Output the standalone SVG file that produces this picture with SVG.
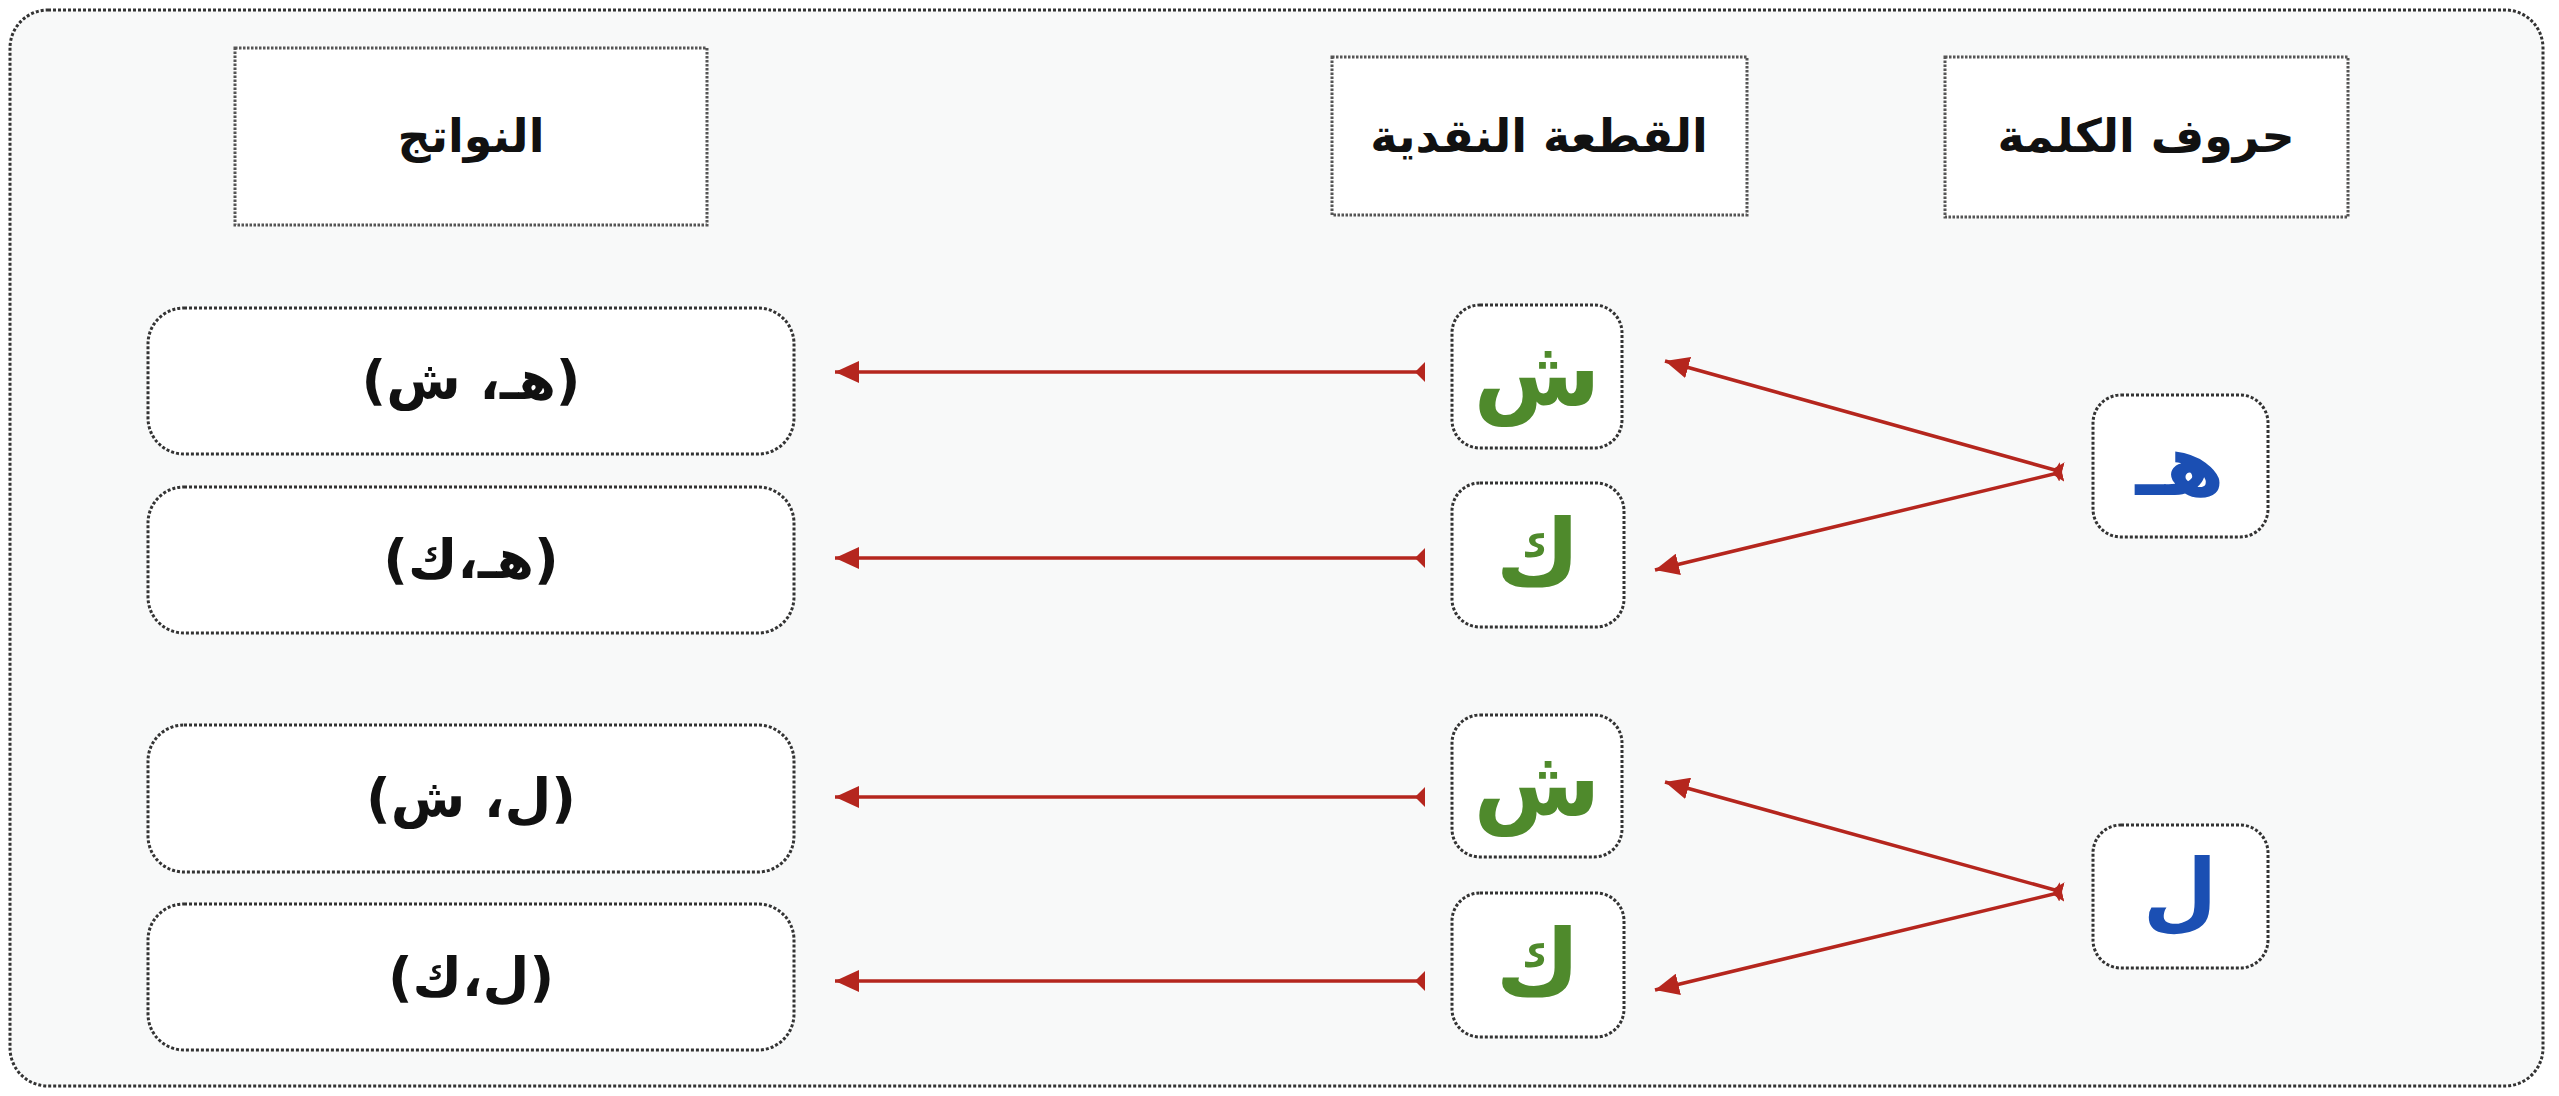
<svg xmlns="http://www.w3.org/2000/svg" width="2559" height="1096" viewBox="0 0 2559 1096">
<style>
.frame{fill:#f8f9f9;stroke:#333;stroke-width:3;stroke-dasharray:3 2}
.hdr{fill:#fff;stroke:#555;stroke-width:3;stroke-dasharray:2.5 1.5}
.box{fill:#fff;stroke:#333;stroke-width:3;stroke-dasharray:3 2}
.ar{font-family:"DejaVu Sans",sans-serif;font-weight:bold;text-anchor:middle;direction:rtl}
.h{font-size:46px;fill:#111}
.r{font-size:54px;fill:#111}
.g{font-size:92px;fill:#4f8a2c}
.b{font-size:86px;fill:#1b4fb3}
.con{stroke:#b5261e;stroke-width:3.5;fill:none;marker-end:url(#head);marker-start:url(#tail)}
</style>
<defs>
<marker id="head" viewBox="0 0 24 22" refX="24" refY="11" markerWidth="24" markerHeight="22" markerUnits="userSpaceOnUse" orient="auto">
<path d="M0,0 L24,11 L0,22 z" fill="#b5261e"/>
</marker>
<marker id="tail" viewBox="0 0 10 20" refX="0" refY="10" markerWidth="10" markerHeight="20" markerUnits="userSpaceOnUse" orient="auto">
<path d="M0,0 L10,10 L0,20 z" fill="#b5261e"/>
</marker>
</defs>
<rect class="frame" x="10" y="10" width="2533" height="1076" rx="38"/>
<g id="hdr-results"><rect class="hdr" x="235" y="48" width="472" height="177"/><text class="ar h" x="471" y="152">النواتج</text></g>
<g id="hdr-coin"><rect class="hdr" x="1332" y="57" width="415" height="158"/><text class="ar h" x="1539" y="152">القطعة النقدية</text></g>
<g id="hdr-letters"><rect class="hdr" x="1945" y="57" width="403" height="160"/><text class="ar h" x="2146" y="152">حروف الكلمة</text></g>
<g id="res1"><rect class="box" x="148" y="308" width="646" height="146" rx="36"/><text class="ar r" x="471" y="399">(هـ، ش)</text></g>
<g id="res2"><rect class="box" x="148" y="487" width="646" height="146" rx="36"/><text class="ar r" x="471" y="578">(هـ،ك)</text></g>
<g id="res3"><rect class="box" x="148" y="725" width="646" height="147" rx="36"/><text class="ar r" x="471" y="817">(ل، ش)</text></g>
<g id="res4"><rect class="box" x="148" y="904" width="646" height="146" rx="36"/><text class="ar r" x="471" y="996">(ل،ك)</text></g>
<g id="coin1"><rect class="box" x="1452" y="305" width="170" height="143" rx="28"/><text class="ar g" x="1537" y="405">ش</text></g>
<g id="coin2"><rect class="box" x="1452" y="483" width="172" height="144" rx="28"/><text class="ar g" x="1538" y="585">ك</text></g>
<g id="coin3"><rect class="box" x="1452" y="715" width="170" height="142" rx="28"/><text class="ar g" x="1537" y="815">ش</text></g>
<g id="coin4"><rect class="box" x="1452" y="893" width="172" height="144" rx="28"/><text class="ar g" x="1538" y="995">ك</text></g>
<g id="letter-ha"><rect class="box" x="2093" y="395" width="175" height="142" rx="28"/><text class="ar b" x="2180" y="495">هـ</text></g>
<g id="letter-lam"><rect class="box" x="2093" y="825" width="175" height="143" rx="28"/><text class="ar b" x="2180" y="920">ل</text></g>
<g id="connectors">
<line class="con" x1="1425" y1="372" x2="835" y2="372"/>
<line class="con" x1="1425" y1="558" x2="835" y2="558"/>
<line class="con" x1="1425" y1="797" x2="835" y2="797"/>
<line class="con" x1="1425" y1="981" x2="835" y2="981"/>
<line class="con" x1="2062" y1="472" x2="1665" y2="361"/>
<line class="con" x1="2062" y1="472" x2="1655" y2="570"/>
<line class="con" x1="2062" y1="892" x2="1665" y2="782"/>
<line class="con" x1="2062" y1="892" x2="1655" y2="990"/>
</g>
</svg>
